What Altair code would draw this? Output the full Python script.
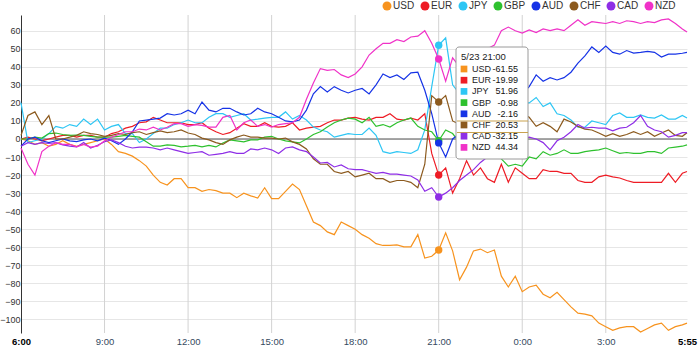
import altair as alt
import pandas as pd

currencies = ["USD", "EUR", "JPY", "GBP", "AUD", "CHF", "CAD", "NZD"]
colors = ["#f7931e", "#ee1c25", "#2ec6f4", "#2ec12e", "#1633e6", "#8c5a1e", "#8e2ee6", "#f032c8"]

# minutes after 6:00 (15-minute samples, last sample at 5:55)
minutes = list(range(0, 1426, 15)) + [1435]

usd = [0, -1, -3, -2, -4, -3, -1, -3, -4, -3, -2, -1,
       0, -3, -7, -8, -9.5, -12, -15, -20, -24, -25.5, -22, -22,
       -27, -27, -29, -28, -28.6, -30, -30, -32.5, -30, -31.5, -32.7, -27,
       -33, -33, -29, -25, -28, -37, -46, -48, -51.5, -53, -46, -48,
       -50, -53, -55, -58, -59, -59, -58.7, -59.8, -59.8, -53, -66, -65,
       -61.55, -52, -62, -78, -71, -62, -61, -63, -61.5, -76, -82, -76,
       -84.6, -82, -81, -86, -88, -85, -89, -93, -96.5, -97, -98, -102,
       -104, -106, -104.7, -104, -104, -107, -105, -103, -102, -106, -104, -103,
       -102]
eur = [0, 1, 0, -1, 0, 1, 2, 2, 1, 2, 2, 1,
       1, 3, 4, 6, 7, 9, 9.5, 12, 10.5, 9, 9, 9,
       8, 8, 9, 6, 4, 2.5, 3.5, 6, 8.5, 7, 7, 9,
       7, 6.6, 7, 9, 5, 6, 6.6, 7, 9, 10.5, 10.5, 11.6,
       12, 11, 10.5, 12, 12, 14, 11, 10.5, 11.6, 10.5, 14, -8,
       -19.99, -16, -30, -22, -12, -20, -16, -22, -24, -14, -24, -16,
       -19, -22, -22, -17, -18, -18, -19, -19, -23, -24, -24, -21,
       -20, -21, -21.6, -23, -24, -24, -24, -24, -24, -19, -24, -19,
       -18]
jpy = [20, -2, -1, 0, 3, 7, 6, 8, 7, 11, 8, 11,
       5, 7, 8, 3, 3, -2, 0, 3, 6, 6, 8, 9,
       10.5, 9, 9, 12, 14, 14, 12, 13, 14, 10.5, 11, 11.6,
       12, 12, 15, 11, 13, 10.5, 6.6, 5, 4, 1, 2, 3,
       2.5, 2.5, 6, 2, -7, -8, -7, -7.5, -8, -6, 5, 29,
       51.96, 56, 30, 25, 22, 18, 20, 17, 20, 18, 20, 18,
       20, 20, 23, 18, 20, 14, 13, 10.5, 6.6, 6.5, 10, 9,
       8, 13, 14.4, 12, 12, 13.3, 12, 11.6, 13.3, 11, 11, 13,
       11.6]
gbp = [0, 0, 1, 0.5, 3, 3.3, 2.5, 2, 2.2, 2, 1.5, 1,
       1, 1, 1.5, 2, 1.5, 1, -1.5, -4, -4, -3.3, -3.5, -4.4,
       -4, -3.5, -4.4, -3.5, -4.4, -2.2, -0.5, -1, -1.6, -0.5, -0.5, 1,
       1.5, 0, -1, -1.6, -2.2, 0, 2.5, 4, 6.6, 9, 10.5, 11.6,
       11, 9, 12, 7, 8, 6.6, 9, 10.5, 11.6, 7, 5, 4,
       -0.98, 5, 3, -2, -4, -5, -6, -7, -8, -11, -15, -14,
       -15, -10, -11, -7, -9, -8, -6, -8, -8, -7, -6.5, -6,
       -5, -6.5, -8, -7.5, -8, -8, -7, -7, -8, -5, -4.5, -4,
       -3.3]
aud = [-4, 0, 1, -1, -2, -1, 0, -1, -1.5, -0.5, 0, -1,
       0.5, -1, -3, 0, 4, 10, 10.5, 11, 11.6, 14, 13.3, 14,
       16, 14, 20.5, 16, 15, 17, 17, 15, 13.3, 14, 17, 15,
       14, 12, 10, 9.5, 10.5, 16, 25, 29, 26, 29, 27, 25.5,
       27, 28, 25, 30, 36, 34, 35.5, 33, 36.6, 37, 27, 14,
       -2.16, -10, 0, 3, 8, 12, 18, 15, 22, 24, 22, 26,
       25, 29, 35.5, 32, 34, 32.7, 34, 37, 42, 46, 51, 48,
       51.5, 48, 47, 49, 47.6, 48, 48.5, 48, 45.4, 47, 47, 47.5,
       48]
chf = [2, 13, 15, 8, 13, 0, 0, 1, 2, 4, 3, 2.5,
       1.5, 2, 3, 2.5, 3.5, 4, 2.5, 3.5, 4.5, 3.5, 4, 5,
       3.3, 2.5, 0.5, -0.5, -2, -3, -0.5, 1, 2.2, 1, 1, 0.5,
       0.5, 0, 0.5, -1.6, -3, -5.5, -11, -14, -14, -18, -19, -18,
       -21, -20, -19, -22, -22, -24, -23, -23, -24, -27, -14, 24,
       20.53, 24, 10, 8, 5, 8, 10, 12, 12, 14, 12, 14,
       14, 12, 7, 9, 7, 4, 11, 9.4, 7, 5.5, 5, 3.3,
       1.5, 3, 1.5, 2.5, 4, 2.5, 4, 1.5, 3.3, 5, 2, 1.5,
       3.5]
cad = [-4, -2, -3, -2, -2.5, -2, -3.3, -4, -4.4, -2, -5, -3.5,
       -1.5, -0.5, -2, -4, -5, -4.5, -4.5, -5, -6, -5, -6, -7,
       -8, -7.5, -7, -9, -8.5, -8, -7, -8, -8, -5.5, -6, -5,
       -6, -8, -5, -4.4, -6, -7, -10, -13.3, -13, -15.5, -14.4, -16.5,
       -17, -17, -18, -19, -18.5, -19.5, -19.5, -20, -20.5, -22.7, -29, -27,
       -32.15, -30, -27, -23, -20, -17, -13, -10, -7, -5, -4, -2,
       0, 1, 0, -2, -6, -1, 1, 4, 8, 6, 6.5, 6,
       6, 4.5, 6, 6.5, 9, 13, 7, 5, 4, 1, 2, 3.5,
       3.5]
nzd = [-5, -14, -20, -7, -4, -2, -3, -3, -4.4, -3, -4.5, -4,
       -1, 1, 2.5, 4, 4, 5.5, 5, 6.5, 5, 6.5, 8.5, 8.5,
       7, 8, 7.5, 6.6, 6.6, 12, 13, 5, 9, 10.5, 7, 8,
       6.6, 8, 8.5, 9, 12, 22, 31, 39, 38, 38.5, 35.5, 34,
       36, 40, 46.5, 50, 53, 53, 55, 54, 56.5, 57, 60, 53,
       44.34, 32, 45, 40, 38, 42, 46, 50, 52, 60, 62, 60,
       58.7, 60.4, 59, 61, 60, 61, 60, 63, 66, 63, 65, 64.5,
       64, 65, 64, 65.5, 65, 64, 65, 64.5, 66, 66.5, 64, 61,
       59.3]

series = [usd, eur, jpy, gbp, aud, chf, cad, nzd]

tick_minutes = [0, 180, 360, 540, 720, 900, 1080, 1260, 1435]
tick_labels = ["6:00", "9:00", "12:00", "15:00", "18:00", "21:00", "0:00", "3:00", "5:55"]
y_ticks = list(range(-100, 61, 10))

hover_minute = 900
hover_label = "5/23 21:00"
hover_values = [-61.55, -19.99, 51.96, -0.98, -2.16, 20.53, -32.15, 44.34]

FONT = "Liberation Sans"

rows = []
for cur, vals in zip(currencies, series):
    for m, v in zip(minutes, vals):
        rows.append({"m": m, "cur": cur, "v": v})
df = pd.DataFrame(rows)
pts = pd.DataFrame({"m": [hover_minute] * len(currencies), "cur": currencies, "v": hover_values})
tip = pd.DataFrame({"cur": currencies,
                    "val": [f"{v:.2f}" for v in hover_values],
                    "row": list(range(len(currencies)))})

cscale = alt.Scale(domain=currencies, range=colors)
xscale = alt.Scale(domain=[0, 1435], nice=False, zero=False)
yscale = alt.Scale(domain=[-107.5, 68.7], nice=False, zero=False)

label_expr = "[" + ",".join(f"'{t}'" for t in tick_labels) + "][indexof([" + \
    ",".join(str(t) for t in tick_minutes) + "], datum.value)]"
edge_test = f"datum.value == {tick_minutes[0]} || datum.value == {tick_minutes[-1]}"

x_axis = alt.Axis(values=tick_minutes, labelExpr=label_expr, grid=False, domain=False,
                  ticks=False, labelPadding=3, labelFontSize=9.5, labelFont=FONT,
                  labelColor={"condition": {"test": edge_test, "value": "#000000"}, "value": "#34495e"},
                  labelFontWeight={"condition": {"test": edge_test, "value": "bold"}, "value": "normal"},
                  title=None, labelFlush=False, labelOverlap=False)
y_axis = alt.Axis(values=y_ticks, grid=True, gridColor="#e6e6e6", domain=True,
                  domainColor="#333333", ticks=False, labelPadding=1, labelFontSize=9,
                  labelFont=FONT, labelColor="#333333", title=None)

vgrid = alt.Chart(pd.DataFrame({"m": tick_minutes[1:-1]})).mark_rule(
    color="#d2d2d2", strokeWidth=1).encode(x=alt.X("m:Q", scale=xscale, axis=x_axis))

zero = alt.Chart(pd.DataFrame({"v": [0]})).mark_rule(color="#555555", strokeWidth=1).encode(
    y=alt.Y("v:Q", scale=yscale, axis=y_axis))

lines = alt.Chart(df).mark_line(strokeWidth=1.2).encode(
    x=alt.X("m:Q", scale=xscale, axis=x_axis),
    y=alt.Y("v:Q", scale=yscale, axis=y_axis),
    color=alt.Color("cur:N", scale=cscale, legend=None),
)

points = alt.Chart(pts).mark_circle(size=55, opacity=1).encode(
    x=alt.X("m:Q", scale=xscale, axis=x_axis),
    y=alt.Y("v:Q", scale=yscale, axis=y_axis),
    color=alt.Color("cur:N", scale=cscale, legend=alt.Legend(
        orient="none", legendX=361, legendY=-14, direction="horizontal", title=None,
        symbolType="circle", symbolSize=80, symbolOpacity=1, symbolStrokeWidth=0,
        labelFontSize=10, labelFont=FONT, labelColor="#333333",
        columnPadding=5, labelOffset=1)),
)

box = alt.Chart(pd.DataFrame({"a": [0]})).mark_rect(
    fill="white", stroke="#9a9a9a", strokeWidth=1, cornerRadius=3).encode(
    x=alt.value(435), x2=alt.value(507), y=alt.value(32), y2=alt.value(144))

title = alt.Chart(pd.DataFrame({"a": [0]})).mark_text(
    align="left", baseline="middle", fontSize=9.5, font=FONT, color="#222222").encode(
    x=alt.value(440), y=alt.value(42), text=alt.value(hover_label))

hl = alt.Chart(pd.DataFrame({"a": [0, 1]})).transform_calculate(
    py="datum.a == 0 ? 106 : 117.5").mark_rule(color="#c9a24e", strokeWidth=1).encode(
    x=alt.value(436), x2=alt.value(507), y=alt.Y("py:Q", scale=None, axis=None))

base_tip = alt.Chart(tip).transform_calculate(py="54 + datum.row * 11.2")

sw = base_tip.mark_square(size=45, opacity=1).encode(
    x=alt.value(443), y=alt.Y("py:Q", scale=None, axis=None),
    color=alt.Color("cur:N", scale=cscale, legend=None))

names = base_tip.mark_text(align="left", baseline="middle", fontSize=9, font=FONT,
                           color="#222222").encode(
    x=alt.value(451), y=alt.Y("py:Q", scale=None, axis=None), text="cur:N")

vals = base_tip.mark_text(align="right", baseline="middle", fontSize=9, font=FONT,
                          color="#111111").encode(
    x=alt.value(497), y=alt.Y("py:Q", scale=None, axis=None), text="val:N")

chart = alt.layer(vgrid, zero, lines, points, box, title, hl, sw, names, vals).resolve_legend(
    color="independent"
).properties(
    width=666, height=318,
    autosize=alt.AutoSizeParams(type="none"),
    padding={"left": 21, "top": 15, "right": 13, "bottom": 21},
    background="white",
).configure_view(strokeWidth=0)

chart.save("out.html", embed_options={"renderer": "svg", "actions": False})
